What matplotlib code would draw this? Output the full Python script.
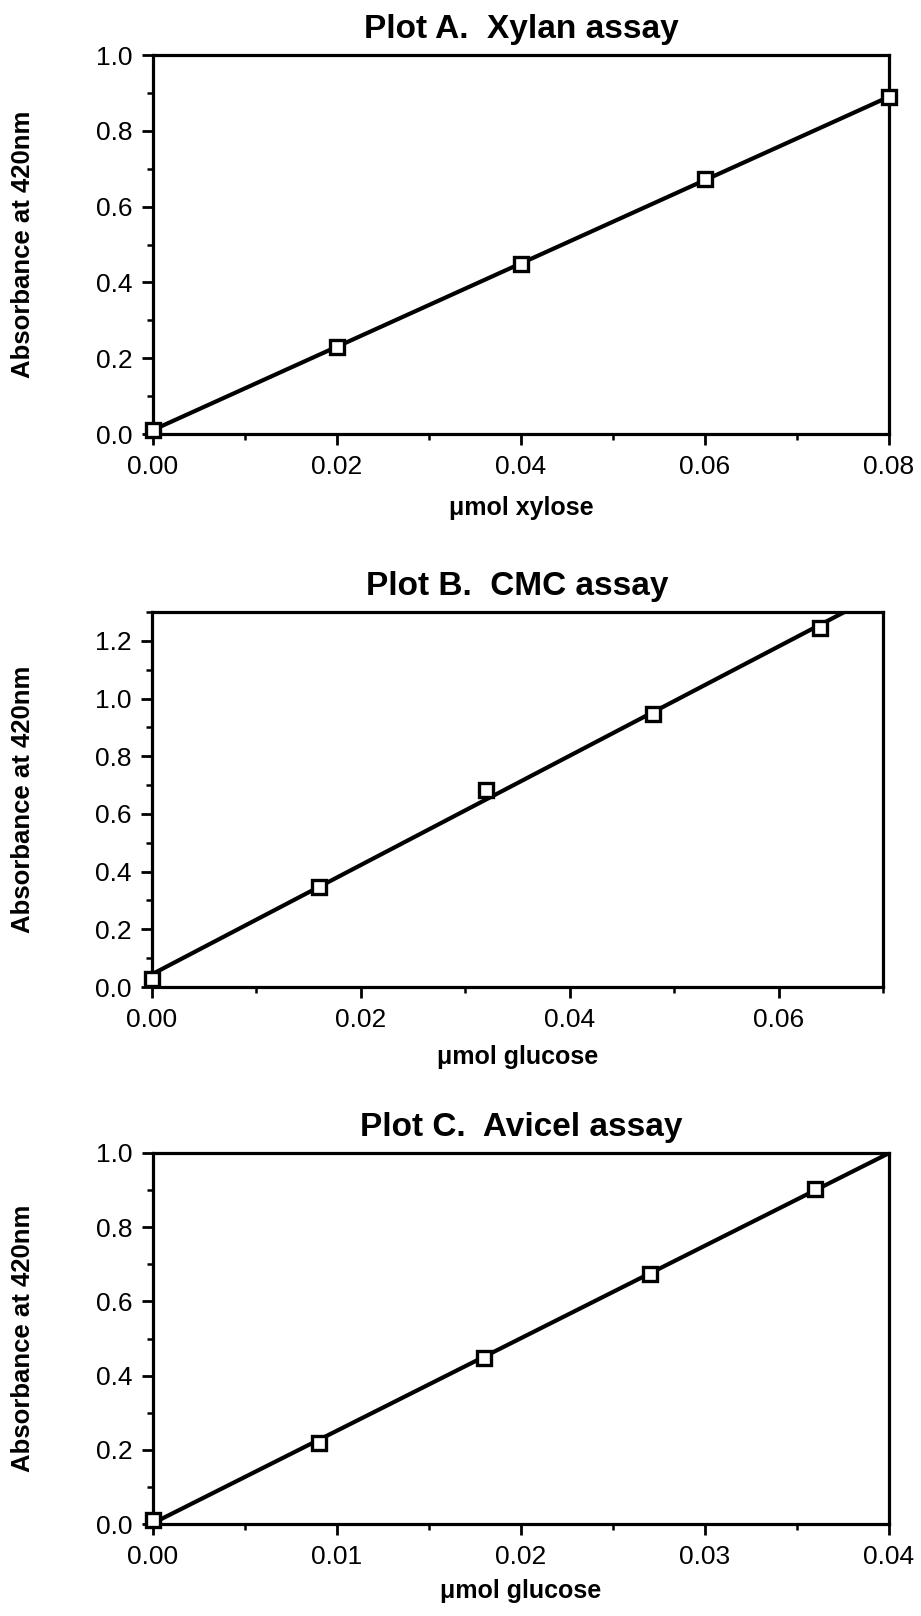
import numpy as np
import matplotlib
matplotlib.use('Agg')
import matplotlib.pyplot as plt
from matplotlib.ticker import MultipleLocator

plt.rcParams['font.family'] = ['Liberation Sans', 'DejaVu Sans']

# Plot A - xylan assay (xylose standard)
xyl_x = [0.00, 0.02, 0.04, 0.06, 0.08]
xyl_y = [0.011, 0.230, 0.448, 0.674, 0.888]

# Plot B - CMC assay (glucose standard)
cmc_x = [0.000, 0.016, 0.032, 0.048, 0.064]
cmc_y = [0.029, 0.347, 0.684, 0.947, 1.244]

# Plot C - Avicel assay (glucose standard)
avi_x = [0.000, 0.009, 0.018, 0.027, 0.036]
avi_y = [0.011, 0.217, 0.448, 0.675, 0.904]

titles = ['Plot A.  Xylan assay', 'Plot B.  CMC assay', 'Plot C.  Avicel assay']
xlabels = ['\u03bcmol xylose', '\u03bcmol glucose', '\u03bcmol glucose']
ylabel = 'Absorbance at 420nm'

W, H = 921, 1616
fig = plt.figure(figsize=(W / 100, H / 100), dpi=100)

# axes boxes in pixels: left, right, top, bottom
boxes = [(153, 889, 55, 434), (152, 883, 612, 987), (153, 889, 1153, 1524)]
xlims = [(0, 0.08), (0, 0.07), (0, 0.04)]
ylims = [(0, 1.0), (0, 1.3), (0, 1.0)]
xmajor = [0.02, 0.02, 0.01]
ymajor = [0.2, 0.2, 0.2]
xlab_y = [-0.195, -0.187, -0.181]

series = [(xyl_x, xyl_y), (cmc_x, cmc_y), (avi_x, avi_y)]

for i, (xs, ys) in enumerate(series):
    l, r, t, b = boxes[i]
    ax = fig.add_axes([l / W, 1 - b / H, (r - l) / W, (b - t) / H])
    xs = np.array(xs)
    ys = np.array(ys)

    # least squares line through the standards
    k, c = np.polyfit(xs, ys, 1)
    xl = np.array(xlims[i])
    ax.plot(xl, k * xl + c, color='black', lw=3.0, solid_capstyle='butt', zorder=2)
    ax.plot(xs, ys, linestyle='none', marker='s', ms=9.5, mfc='white', mec='black',
            mew=2.4, zorder=3, clip_on=False)

    ax.set_xlim(*xlims[i])
    ax.set_ylim(*ylims[i])
    ax.xaxis.set_major_locator(MultipleLocator(xmajor[i]))
    ax.xaxis.set_minor_locator(MultipleLocator(xmajor[i] / 2))
    ax.yaxis.set_major_locator(MultipleLocator(ymajor[i]))
    ax.yaxis.set_minor_locator(MultipleLocator(0.1))
    ax.xaxis.set_major_formatter(plt.FormatStrFormatter('%.2f'))
    ax.yaxis.set_major_formatter(plt.FormatStrFormatter('%.1f'))

    for s in ax.spines.values():
        s.set_linewidth(2.3)
    ax.tick_params(which='major', direction='out', length=8, width=2.0,
                   labelsize=19, top=False, right=False)
    ax.tick_params(which='minor', direction='out', length=4.5, width=1.8,
                   top=False, right=False)
    ax.tick_params(axis='x', which='major', pad=7)
    ax.tick_params(axis='y', which='major', pad=7)

    ax.set_title(titles[i], fontsize=24, fontweight='bold', pad=12)
    ax.set_xlabel(xlabels[i], fontsize=18, fontweight='bold')
    ax.xaxis.set_label_coords(0.5, xlab_y[i])
    ax.xaxis.label.set_va('center')
    ax.set_ylabel(ylabel, fontsize=18.5, fontweight='bold')
    ax.yaxis.set_label_coords(-0.177, 0.5)
    ax.yaxis.label.set_va('center')

fig.savefig('out.png', dpi=100, facecolor='white')
